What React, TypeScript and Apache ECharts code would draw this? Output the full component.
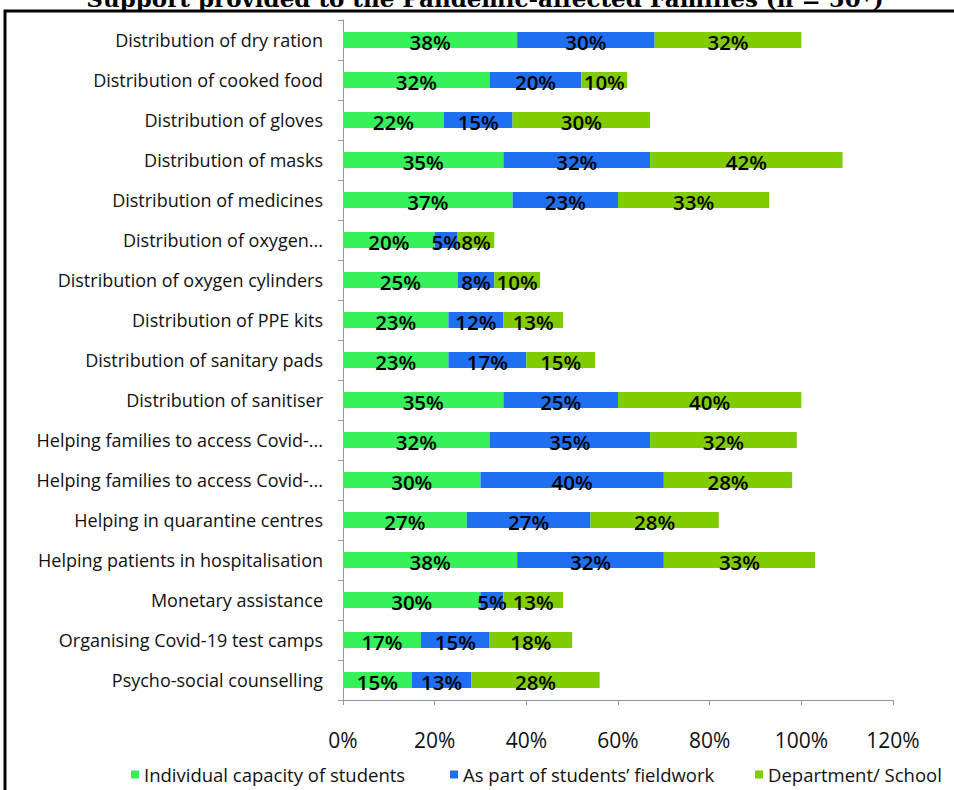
import React, { useEffect, useRef } from "react";
import * as echarts from "echarts";

const TITLE = "Support provided to the Pandemic-affected Families (n = 50*)";

const categories = [
  "Distribution of dry ration",
  "Distribution of cooked food",
  "Distribution of gloves",
  "Distribution of masks",
  "Distribution of medicines",
  "Distribution of oxygen...",
  "Distribution of oxygen cylinders",
  "Distribution of PPE kits",
  "Distribution of sanitary pads",
  "Distribution of sanitiser",
  "Helping families to access Covid-...",
  "Helping families to access Covid-...",
  "Helping in quarantine centres",
  "Helping patients in hospitalisation",
  "Monetary assistance",
  "Organising Covid-19 test camps",
  "Psycho-social counselling",
];

const seriesNames = [
  "Individual capacity of students",
  "As part of students\u2019 fieldwork",
  "Department/ School",
];

const individual = [38, 32, 22, 35, 37, 20, 25, 23, 23, 35, 32, 30, 27, 38, 30, 17, 15];
const fieldwork = [30, 20, 15, 32, 23, 5, 8, 12, 17, 25, 35, 40, 27, 32, 5, 15, 13];
const department = [32, 10, 30, 42, 33, 8, 10, 13, 15, 40, 32, 28, 28, 33, 13, 18, 28];

const xTicks = { min: 0, max: 120, interval: 20 };

const colors = ["#36F05A", "#1F6FF2", "#80CC00"];

export default function App() {
  const ref = useRef<HTMLDivElement>(null);
  useEffect(() => {
    if (!ref.current) return;
    const chart = echarts.init(ref.current, null, { renderer: "svg" });
    // ensure category key uniqueness for duplicated labels
    const cats = categories.map((c, i) => ({ value: c + "\u200b".repeat(i) }));
    const labelFont = "'Open Sans', Lato, sans-serif";
    const dataSets = [individual, fieldwork, department];
    const legendLefts = [126, 445, 750];
    chart.setOption({
      animation: false,
      backgroundColor: "#ffffff",
      color: colors,
      textStyle: { fontFamily: labelFont },
      graphic: [
        {
          type: "rect",
          shape: { x: 5, y: 11, width: 960, height: 800 },
          style: { fill: "none", stroke: "#000", lineWidth: 3 },
          z: 0,
        },
        {
          type: "text",
          x: 485,
          y: 10,
          style: {
            text: TITLE,
            font: "bold 23px 'DejaVu Serif', serif",
            fill: "#000",
            textAlign: "center",
            textVerticalAlign: "bottom",
          },
          z: 10,
        },
      ],
      grid: { left: 343, right: 61, top: 20, height: 680, containLabel: false },
      legend: seriesNames.map((n, i) => ({
        left: legendLefts[i],
        top: 760,
        itemWidth: 8,
        itemHeight: 8,
        icon: "rect",
        textStyle: { fontSize: 18.5, color: "#111", fontFamily: labelFont },
        data: [n],
      })),
      xAxis: {
        type: "value",
        min: xTicks.min,
        max: xTicks.max,
        interval: xTicks.interval,
        splitLine: { show: false },
        axisLine: { show: true, lineStyle: { color: "#8A9BA8", width: 1 } },
        axisTick: { show: true, length: 5, lineStyle: { color: "#8A9BA8" } },
        axisLabel: {
          formatter: "{value}%",
          margin: 29,
          fontSize: 21,
          color: "#111",
          fontFamily: labelFont,
        },
      },
      yAxis: {
        type: "category",
        inverse: true,
        data: cats,
        axisLine: { show: true, lineStyle: { color: "#8A9BA8", width: 1 } },
        axisTick: { show: true, length: 5, lineStyle: { color: "#8A9BA8" } },
        axisLabel: {
          margin: 20,
          fontSize: 18,
          color: "#111",
          fontFamily: labelFont,
          formatter: (v: string) => v.replace(/\u200b/g, ""),
        },
      },
      series: seriesNames.map((name, i) => ({
        name,
        type: "bar",
        stack: "total",
        barWidth: 16,
        data: dataSets[i],
        label: {
          show: true,
          position: "inside",
          offset: [0, 2],
          formatter: "{c}%",
          color: "#000",
          fontSize: 20.5,
          fontWeight: 600,
          fontFamily: labelFont,
        },
      })),
    });
    return () => chart.dispose();
  }, []);
  return (
    <div
      ref={ref}
      style={{ position: "fixed", left: 0, top: 0, width: 954, height: 790, background: "#fff" }}
    />
  );
}
